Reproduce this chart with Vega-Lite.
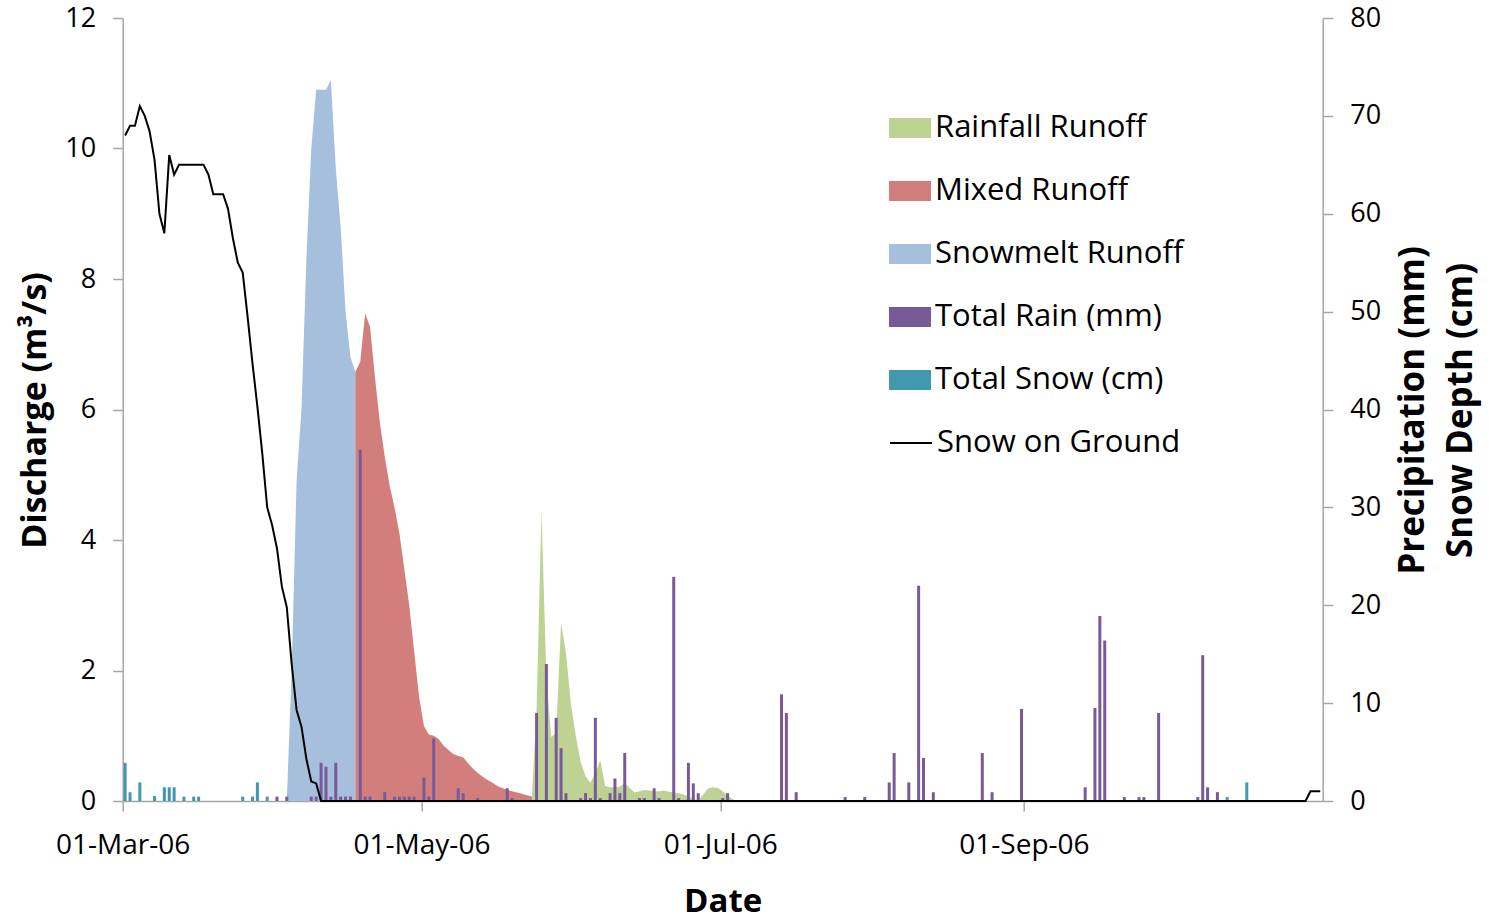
{
  "$schema": "https://vega.github.io/schema/vega-lite/v6.json",
  "width": 1200,
  "height": 783,
  "autosize": {"type": "none"},
  "padding": {"left": 122.7, "top": 18, "right": 168.3, "bottom": 121},
  "background": "white",
  "config": {
    "font": "Open Sans",
    "view": {"stroke": null},
    "axis": {
      "grid": false,
      "labelFont": "Open Sans",
      "titleFont": "Open Sans",
      "labelColor": "#000000",
      "titleColor": "#000000",
      "domainColor": "#A6A6A6",
      "tickColor": "#A6A6A6",
      "domainWidth": 1.5,
      "tickWidth": 1.5,
      "tickSize": 10
    },
    "legend": {"labelFont": "Open Sans", "labelColor": "#000000"}
  },
  "layer": [
    {
      "data": {"values": [
        {"date": "2006-04-03", "series": "Snowmelt Runoff", "q": 0},
        {"date": "2006-04-04", "series": "Snowmelt Runoff", "q": 2.0},
        {"date": "2006-04-05", "series": "Snowmelt Runoff", "q": 4.9},
        {"date": "2006-04-06", "series": "Snowmelt Runoff", "q": 6.0},
        {"date": "2006-04-07", "series": "Snowmelt Runoff", "q": 8.3},
        {"date": "2006-04-08", "series": "Snowmelt Runoff", "q": 10.0},
        {"date": "2006-04-09", "series": "Snowmelt Runoff", "q": 10.9},
        {"date": "2006-04-10", "series": "Snowmelt Runoff", "q": 10.9},
        {"date": "2006-04-11", "series": "Snowmelt Runoff", "q": 10.9},
        {"date": "2006-04-12", "series": "Snowmelt Runoff", "q": 11.05},
        {"date": "2006-04-13", "series": "Snowmelt Runoff", "q": 9.7},
        {"date": "2006-04-14", "series": "Snowmelt Runoff", "q": 8.8},
        {"date": "2006-04-15", "series": "Snowmelt Runoff", "q": 7.5},
        {"date": "2006-04-16", "series": "Snowmelt Runoff", "q": 6.8},
        {"date": "2006-04-17", "series": "Snowmelt Runoff", "q": 6.58},
        {"date": "2006-04-17", "series": "Mixed Runoff", "q": 6.58},
        {"date": "2006-04-18", "series": "Mixed Runoff", "q": 6.73},
        {"date": "2006-04-19", "series": "Mixed Runoff", "q": 7.47},
        {"date": "2006-04-20", "series": "Mixed Runoff", "q": 7.27},
        {"date": "2006-04-21", "series": "Mixed Runoff", "q": 6.5},
        {"date": "2006-04-22", "series": "Mixed Runoff", "q": 5.8},
        {"date": "2006-04-23", "series": "Mixed Runoff", "q": 5.28},
        {"date": "2006-04-24", "series": "Mixed Runoff", "q": 4.83},
        {"date": "2006-04-25", "series": "Mixed Runoff", "q": 4.5},
        {"date": "2006-04-26", "series": "Mixed Runoff", "q": 4.1},
        {"date": "2006-04-27", "series": "Mixed Runoff", "q": 3.55},
        {"date": "2006-04-28", "series": "Mixed Runoff", "q": 3.0},
        {"date": "2006-04-29", "series": "Mixed Runoff", "q": 2.3},
        {"date": "2006-04-30", "series": "Mixed Runoff", "q": 1.6},
        {"date": "2006-05-01", "series": "Mixed Runoff", "q": 1.15},
        {"date": "2006-05-02", "series": "Mixed Runoff", "q": 1.02},
        {"date": "2006-05-03", "series": "Mixed Runoff", "q": 1.0},
        {"date": "2006-05-04", "series": "Mixed Runoff", "q": 0.95},
        {"date": "2006-05-05", "series": "Mixed Runoff", "q": 0.85},
        {"date": "2006-05-06", "series": "Mixed Runoff", "q": 0.78},
        {"date": "2006-05-07", "series": "Mixed Runoff", "q": 0.72},
        {"date": "2006-05-08", "series": "Mixed Runoff", "q": 0.69},
        {"date": "2006-05-09", "series": "Mixed Runoff", "q": 0.67},
        {"date": "2006-05-10", "series": "Mixed Runoff", "q": 0.58},
        {"date": "2006-05-11", "series": "Mixed Runoff", "q": 0.5},
        {"date": "2006-05-12", "series": "Mixed Runoff", "q": 0.43},
        {"date": "2006-05-13", "series": "Mixed Runoff", "q": 0.37},
        {"date": "2006-05-14", "series": "Mixed Runoff", "q": 0.32},
        {"date": "2006-05-15", "series": "Mixed Runoff", "q": 0.28},
        {"date": "2006-05-16", "series": "Mixed Runoff", "q": 0.23},
        {"date": "2006-05-17", "series": "Mixed Runoff", "q": 0.2},
        {"date": "2006-05-18", "series": "Mixed Runoff", "q": 0.17},
        {"date": "2006-05-19", "series": "Mixed Runoff", "q": 0.15},
        {"date": "2006-05-20", "series": "Mixed Runoff", "q": 0.13},
        {"date": "2006-05-21", "series": "Mixed Runoff", "q": 0.11},
        {"date": "2006-05-22", "series": "Mixed Runoff", "q": 0.09},
        {"date": "2006-05-23", "series": "Mixed Runoff", "q": 0.07},
        {"date": "2006-05-24", "series": "Mixed Runoff", "q": 0},
        {"date": "2006-05-23", "series": "Rainfall Runoff", "q": 0},
        {"date": "2006-05-24", "series": "Rainfall Runoff", "q": 1.4},
        {"date": "2006-05-25", "series": "Rainfall Runoff", "q": 4.45},
        {"date": "2006-05-26", "series": "Rainfall Runoff", "q": 1.9},
        {"date": "2006-05-27", "series": "Rainfall Runoff", "q": 0.98},
        {"date": "2006-05-28", "series": "Rainfall Runoff", "q": 1.05},
        {"date": "2006-05-29", "series": "Rainfall Runoff", "q": 2.73},
        {"date": "2006-05-30", "series": "Rainfall Runoff", "q": 2.27},
        {"date": "2006-05-31", "series": "Rainfall Runoff", "q": 1.5},
        {"date": "2006-06-01", "series": "Rainfall Runoff", "q": 1.0},
        {"date": "2006-06-02", "series": "Rainfall Runoff", "q": 0.6},
        {"date": "2006-06-03", "series": "Rainfall Runoff", "q": 0.38},
        {"date": "2006-06-04", "series": "Rainfall Runoff", "q": 0.28},
        {"date": "2006-06-05", "series": "Rainfall Runoff", "q": 0.42},
        {"date": "2006-06-06", "series": "Rainfall Runoff", "q": 0.63},
        {"date": "2006-06-07", "series": "Rainfall Runoff", "q": 0.23},
        {"date": "2006-06-08", "series": "Rainfall Runoff", "q": 0.21},
        {"date": "2006-06-09", "series": "Rainfall Runoff", "q": 0.21},
        {"date": "2006-06-10", "series": "Rainfall Runoff", "q": 0.22},
        {"date": "2006-06-11", "series": "Rainfall Runoff", "q": 0.28},
        {"date": "2006-06-12", "series": "Rainfall Runoff", "q": 0.2},
        {"date": "2006-06-13", "series": "Rainfall Runoff", "q": 0.13},
        {"date": "2006-06-14", "series": "Rainfall Runoff", "q": 0.15},
        {"date": "2006-06-15", "series": "Rainfall Runoff", "q": 0.17},
        {"date": "2006-06-16", "series": "Rainfall Runoff", "q": 0.16},
        {"date": "2006-06-17", "series": "Rainfall Runoff", "q": 0.15},
        {"date": "2006-06-18", "series": "Rainfall Runoff", "q": 0.15},
        {"date": "2006-06-19", "series": "Rainfall Runoff", "q": 0.16},
        {"date": "2006-06-20", "series": "Rainfall Runoff", "q": 0.14},
        {"date": "2006-06-21", "series": "Rainfall Runoff", "q": 0.13},
        {"date": "2006-06-22", "series": "Rainfall Runoff", "q": 0.12},
        {"date": "2006-06-23", "series": "Rainfall Runoff", "q": 0.1},
        {"date": "2006-06-24", "series": "Rainfall Runoff", "q": 0.07},
        {"date": "2006-06-25", "series": "Rainfall Runoff", "q": 0.03},
        {"date": "2006-06-26", "series": "Rainfall Runoff", "q": 0.01},
        {"date": "2006-06-27", "series": "Rainfall Runoff", "q": 0.1},
        {"date": "2006-06-28", "series": "Rainfall Runoff", "q": 0.19},
        {"date": "2006-06-29", "series": "Rainfall Runoff", "q": 0.21},
        {"date": "2006-06-30", "series": "Rainfall Runoff", "q": 0.2},
        {"date": "2006-07-01", "series": "Rainfall Runoff", "q": 0.15},
        {"date": "2006-07-02", "series": "Rainfall Runoff", "q": 0.08},
        {"date": "2006-07-03", "series": "Rainfall Runoff", "q": 0.03},
        {"date": "2006-07-04", "series": "Rainfall Runoff", "q": 0}
      ]},
      "mark": {"type": "area", "interpolate": "linear", "xOffset": 2.45, "opacity": 1},
      "encoding": {
        "x": {
          "field": "date", "type": "temporal",
          "scale": {"type": "utc", "padding": 0, "domain": [{"year": 2006, "month": 3, "date": 1, "utc": true}, {"year": 2006, "month": 11, "date": 1, "utc": true}]},
          "axis": {
            "values": [
              {"year": 2006, "month": 3, "date": 1, "utc": true},
              {"year": 2006, "month": 5, "date": 1, "utc": true},
              {"year": 2006, "month": 7, "date": 1, "utc": true},
              {"year": 2006, "month": 9, "date": 1, "utc": true}
            ],
            "format": "%d-%b-%y",
            "labelFontSize": 28,
            "labelPadding": 20,
            "labelFlush": false,
            "labelOverlap": false,
            "title": "Date",
            "titleFontSize": 33,
            "titleFontWeight": "bold",
            "titleBaseline": "alphabetic",
            "titleY": 110,
            "titleX": 600,
            "titleAlign": "center"
          }
        },
        "y": {
          "field": "q", "type": "quantitative", "stack": null,
          "scale": {"domain": [0, 12], "nice": false},
          "axis": {
            "values": [0, 2, 4, 6, 8, 10, 12],
            "labelFontSize": 27,
            "labelPadding": 17,
            "title": "Discharge (m³/s)",
            "titleFontSize": 34,
            "titleFontWeight": "bold",
            "titleAngle": 270,
            "titleBaseline": "alphabetic",
            "titleAlign": "center",
            "titleX": -77,
            "titleY": 392
          }
        },
        "color": {
          "field": "series", "type": "nominal",
          "scale": {
            "domain": ["Rainfall Runoff", "Mixed Runoff", "Snowmelt Runoff", "Total Rain (mm)", "Total Snow (cm)"],
            "range": ["#BED393", "#D27E7D", "#A6BFDD", "#785A98", "#4298AF"]
          },
          "legend": {
            "orient": "none", "legendX": 766.3, "legendY": 89,
            "title": null, "padding": 0,
            "symbolType": "M-1,-0.476H1V0.476H-1Z", "symbolSize": 1764,
            "symbolStrokeWidth": 0, "symbolOpacity": 1,
            "labelFontSize": 31, "labelOffset": 4, "rowPadding": 27,
            "labelLimit": 400
          }
        }
      }
    },
    {
      "layer": [
        {
          "data": {"values": [
            {"date": "2006-03-01", "series": "Total Snow (cm)", "value": 3.9},
            {"date": "2006-03-02", "series": "Total Snow (cm)", "value": 0.9},
            {"date": "2006-03-04", "series": "Total Snow (cm)", "value": 1.9},
            {"date": "2006-03-07", "series": "Total Snow (cm)", "value": 0.5},
            {"date": "2006-03-09", "series": "Total Snow (cm)", "value": 1.4},
            {"date": "2006-03-10", "series": "Total Snow (cm)", "value": 1.4},
            {"date": "2006-03-11", "series": "Total Snow (cm)", "value": 1.4},
            {"date": "2006-03-13", "series": "Total Snow (cm)", "value": 0.45},
            {"date": "2006-03-15", "series": "Total Snow (cm)", "value": 0.45},
            {"date": "2006-03-16", "series": "Total Snow (cm)", "value": 0.45},
            {"date": "2006-03-25", "series": "Total Snow (cm)", "value": 0.45},
            {"date": "2006-03-27", "series": "Total Snow (cm)", "value": 0.45},
            {"date": "2006-03-28", "series": "Total Snow (cm)", "value": 1.9},
            {"date": "2006-03-30", "series": "Total Snow (cm)", "value": 0.45},
            {"date": "2006-10-12", "series": "Total Snow (cm)", "value": 0.4},
            {"date": "2006-10-16", "series": "Total Snow (cm)", "value": 1.9},
            {"date": "2006-04-01", "series": "Total Rain (mm)", "value": 0.45},
            {"date": "2006-04-03", "series": "Total Rain (mm)", "value": 0.45},
            {"date": "2006-04-08", "series": "Total Rain (mm)", "value": 0.45},
            {"date": "2006-04-09", "series": "Total Rain (mm)", "value": 0.45},
            {"date": "2006-04-10", "series": "Total Rain (mm)", "value": 3.9},
            {"date": "2006-04-11", "series": "Total Rain (mm)", "value": 3.5},
            {"date": "2006-04-12", "series": "Total Rain (mm)", "value": 0.45},
            {"date": "2006-04-13", "series": "Total Rain (mm)", "value": 3.9},
            {"date": "2006-04-14", "series": "Total Rain (mm)", "value": 0.45},
            {"date": "2006-04-15", "series": "Total Rain (mm)", "value": 0.45},
            {"date": "2006-04-16", "series": "Total Rain (mm)", "value": 0.45},
            {"date": "2006-04-18", "series": "Total Rain (mm)", "value": 35.9},
            {"date": "2006-04-19", "series": "Total Rain (mm)", "value": 0.45},
            {"date": "2006-04-20", "series": "Total Rain (mm)", "value": 0.45},
            {"date": "2006-04-23", "series": "Total Rain (mm)", "value": 0.9},
            {"date": "2006-04-25", "series": "Total Rain (mm)", "value": 0.45},
            {"date": "2006-04-26", "series": "Total Rain (mm)", "value": 0.45},
            {"date": "2006-04-27", "series": "Total Rain (mm)", "value": 0.45},
            {"date": "2006-04-28", "series": "Total Rain (mm)", "value": 0.45},
            {"date": "2006-04-29", "series": "Total Rain (mm)", "value": 0.45},
            {"date": "2006-05-01", "series": "Total Rain (mm)", "value": 2.4},
            {"date": "2006-05-02", "series": "Total Rain (mm)", "value": 0.45},
            {"date": "2006-05-03", "series": "Total Rain (mm)", "value": 6.4},
            {"date": "2006-05-08", "series": "Total Rain (mm)", "value": 1.3},
            {"date": "2006-05-09", "series": "Total Rain (mm)", "value": 0.8},
            {"date": "2006-05-12", "series": "Total Rain (mm)", "value": 0.3},
            {"date": "2006-05-18", "series": "Total Rain (mm)", "value": 1.3},
            {"date": "2006-05-19", "series": "Total Rain (mm)", "value": 0.3},
            {"date": "2006-05-24", "series": "Total Rain (mm)", "value": 9.0},
            {"date": "2006-05-26", "series": "Total Rain (mm)", "value": 14.0},
            {"date": "2006-05-28", "series": "Total Rain (mm)", "value": 8.5},
            {"date": "2006-05-29", "series": "Total Rain (mm)", "value": 5.4},
            {"date": "2006-05-30", "series": "Total Rain (mm)", "value": 0.8},
            {"date": "2006-06-02", "series": "Total Rain (mm)", "value": 0.3},
            {"date": "2006-06-03", "series": "Total Rain (mm)", "value": 0.8},
            {"date": "2006-06-04", "series": "Total Rain (mm)", "value": 0.3},
            {"date": "2006-06-05", "series": "Total Rain (mm)", "value": 8.5},
            {"date": "2006-06-06", "series": "Total Rain (mm)", "value": 0.3},
            {"date": "2006-06-08", "series": "Total Rain (mm)", "value": 0.8},
            {"date": "2006-06-09", "series": "Total Rain (mm)", "value": 2.3},
            {"date": "2006-06-10", "series": "Total Rain (mm)", "value": 0.8},
            {"date": "2006-06-11", "series": "Total Rain (mm)", "value": 4.9},
            {"date": "2006-06-14", "series": "Total Rain (mm)", "value": 0.3},
            {"date": "2006-06-15", "series": "Total Rain (mm)", "value": 0.3},
            {"date": "2006-06-17", "series": "Total Rain (mm)", "value": 1.3},
            {"date": "2006-06-18", "series": "Total Rain (mm)", "value": 0.3},
            {"date": "2006-06-21", "series": "Total Rain (mm)", "value": 22.9},
            {"date": "2006-06-22", "series": "Total Rain (mm)", "value": 0.3},
            {"date": "2006-06-24", "series": "Total Rain (mm)", "value": 3.9},
            {"date": "2006-06-25", "series": "Total Rain (mm)", "value": 1.8},
            {"date": "2006-06-26", "series": "Total Rain (mm)", "value": 0.8},
            {"date": "2006-07-01", "series": "Total Rain (mm)", "value": 0.3},
            {"date": "2006-07-02", "series": "Total Rain (mm)", "value": 0.8},
            {"date": "2006-07-13", "series": "Total Rain (mm)", "value": 10.9},
            {"date": "2006-07-14", "series": "Total Rain (mm)", "value": 9.0},
            {"date": "2006-07-16", "series": "Total Rain (mm)", "value": 0.9},
            {"date": "2006-07-26", "series": "Total Rain (mm)", "value": 0.4},
            {"date": "2006-07-30", "series": "Total Rain (mm)", "value": 0.4},
            {"date": "2006-08-04", "series": "Total Rain (mm)", "value": 1.9},
            {"date": "2006-08-05", "series": "Total Rain (mm)", "value": 4.9},
            {"date": "2006-08-08", "series": "Total Rain (mm)", "value": 1.9},
            {"date": "2006-08-10", "series": "Total Rain (mm)", "value": 22.0},
            {"date": "2006-08-11", "series": "Total Rain (mm)", "value": 4.4},
            {"date": "2006-08-13", "series": "Total Rain (mm)", "value": 0.9},
            {"date": "2006-08-23", "series": "Total Rain (mm)", "value": 4.9},
            {"date": "2006-08-25", "series": "Total Rain (mm)", "value": 0.9},
            {"date": "2006-08-31", "series": "Total Rain (mm)", "value": 9.4},
            {"date": "2006-09-13", "series": "Total Rain (mm)", "value": 1.4},
            {"date": "2006-09-15", "series": "Total Rain (mm)", "value": 9.5},
            {"date": "2006-09-16", "series": "Total Rain (mm)", "value": 18.9},
            {"date": "2006-09-17", "series": "Total Rain (mm)", "value": 16.4},
            {"date": "2006-09-21", "series": "Total Rain (mm)", "value": 0.4},
            {"date": "2006-09-24", "series": "Total Rain (mm)", "value": 0.4},
            {"date": "2006-09-25", "series": "Total Rain (mm)", "value": 0.4},
            {"date": "2006-09-28", "series": "Total Rain (mm)", "value": 9.0},
            {"date": "2006-10-06", "series": "Total Rain (mm)", "value": 0.4},
            {"date": "2006-10-07", "series": "Total Rain (mm)", "value": 14.9},
            {"date": "2006-10-08", "series": "Total Rain (mm)", "value": 1.4},
            {"date": "2006-10-10", "series": "Total Rain (mm)", "value": 0.9}
          ]},
          "mark": {"type": "bar", "width": 3, "xOffset": 2.45},
          "encoding": {
            "x": {
              "field": "date", "type": "temporal",
              "scale": {"type": "utc", "padding": 0, "domain": [{"year": 2006, "month": 3, "date": 1, "utc": true}, {"year": 2006, "month": 11, "date": 1, "utc": true}]},
              "axis": {
                "values": [
                  {"year": 2006, "month": 3, "date": 1, "utc": true},
                  {"year": 2006, "month": 5, "date": 1, "utc": true},
                  {"year": 2006, "month": 7, "date": 1, "utc": true},
                  {"year": 2006, "month": 9, "date": 1, "utc": true}
                ],
                "format": "%d-%b-%y",
                "labelFontSize": 28,
                "labelPadding": 20,
                "labelFlush": false,
                "labelOverlap": false,
                "title": "Date",
                "titleFontSize": 33,
                "titleFontWeight": "bold",
                "titleBaseline": "alphabetic",
                "titleY": 110,
                "titleX": 600,
                "titleAlign": "center"
              }
            },
            "y": {
              "field": "value", "type": "quantitative", "stack": null,
              "scale": {"domain": [0, 80], "nice": false},
              "axis": {
                "orient": "right",
                "values": [0, 10, 20, 30, 40, 50, 60, 70, 80],
                "labelFontSize": 27,
                "labelPadding": 17,
                "title": ["Precipitation (mm)", "Snow Depth (cm)"],
                "titleFontSize": 35,
                "titleFontWeight": "bold",
                "titleAngle": 270,
                "titleBaseline": "alphabetic",
                "titleAlign": "center",
                "titleLineHeight": 48,
                "titleX": 101,
                "titleY": 392
              }
            },
            "color": {
              "field": "series", "type": "nominal",
              "scale": {
                "domain": ["Rainfall Runoff", "Mixed Runoff", "Snowmelt Runoff", "Total Rain (mm)", "Total Snow (cm)"],
                "range": ["#BED393", "#D27E7D", "#A6BFDD", "#785A98", "#4298AF"]
              },
              "legend": {
                "orient": "none", "legendX": 766.3, "legendY": 89,
                "title": null, "padding": 0,
                "symbolType": "M-1,-0.476H1V0.476H-1Z", "symbolSize": 1764,
                "symbolStrokeWidth": 0, "symbolOpacity": 1,
                "labelFontSize": 31, "labelOffset": 4, "rowPadding": 27,
                "labelLimit": 400
              }
            }
          }
        },
        {
          "data": {"values": [
            {"date": "2006-03-01", "series": "Snow on Ground", "depth": 68},
            {"date": "2006-03-02", "series": "Snow on Ground", "depth": 69},
            {"date": "2006-03-03", "series": "Snow on Ground", "depth": 69},
            {"date": "2006-03-04", "series": "Snow on Ground", "depth": 71},
            {"date": "2006-03-05", "series": "Snow on Ground", "depth": 70},
            {"date": "2006-03-06", "series": "Snow on Ground", "depth": 68.4},
            {"date": "2006-03-07", "series": "Snow on Ground", "depth": 65.5},
            {"date": "2006-03-08", "series": "Snow on Ground", "depth": 60},
            {"date": "2006-03-09", "series": "Snow on Ground", "depth": 58},
            {"date": "2006-03-10", "series": "Snow on Ground", "depth": 66},
            {"date": "2006-03-11", "series": "Snow on Ground", "depth": 64},
            {"date": "2006-03-12", "series": "Snow on Ground", "depth": 65},
            {"date": "2006-03-13", "series": "Snow on Ground", "depth": 65},
            {"date": "2006-03-14", "series": "Snow on Ground", "depth": 65},
            {"date": "2006-03-15", "series": "Snow on Ground", "depth": 65},
            {"date": "2006-03-16", "series": "Snow on Ground", "depth": 65},
            {"date": "2006-03-17", "series": "Snow on Ground", "depth": 65},
            {"date": "2006-03-18", "series": "Snow on Ground", "depth": 64},
            {"date": "2006-03-19", "series": "Snow on Ground", "depth": 62},
            {"date": "2006-03-20", "series": "Snow on Ground", "depth": 62},
            {"date": "2006-03-21", "series": "Snow on Ground", "depth": 62},
            {"date": "2006-03-22", "series": "Snow on Ground", "depth": 60.5},
            {"date": "2006-03-23", "series": "Snow on Ground", "depth": 57.5},
            {"date": "2006-03-24", "series": "Snow on Ground", "depth": 55},
            {"date": "2006-03-25", "series": "Snow on Ground", "depth": 54},
            {"date": "2006-03-26", "series": "Snow on Ground", "depth": 49.5},
            {"date": "2006-03-27", "series": "Snow on Ground", "depth": 44.7},
            {"date": "2006-03-28", "series": "Snow on Ground", "depth": 40.3},
            {"date": "2006-03-29", "series": "Snow on Ground", "depth": 35.5},
            {"date": "2006-03-30", "series": "Snow on Ground", "depth": 30},
            {"date": "2006-03-31", "series": "Snow on Ground", "depth": 28.2},
            {"date": "2006-04-01", "series": "Snow on Ground", "depth": 25.8},
            {"date": "2006-04-02", "series": "Snow on Ground", "depth": 21.9},
            {"date": "2006-04-03", "series": "Snow on Ground", "depth": 19.8},
            {"date": "2006-04-04", "series": "Snow on Ground", "depth": 14},
            {"date": "2006-04-05", "series": "Snow on Ground", "depth": 9.3},
            {"date": "2006-04-06", "series": "Snow on Ground", "depth": 7.6},
            {"date": "2006-04-07", "series": "Snow on Ground", "depth": 4.3},
            {"date": "2006-04-08", "series": "Snow on Ground", "depth": 2},
            {"date": "2006-04-09", "series": "Snow on Ground", "depth": 1.8},
            {"date": "2006-04-10", "series": "Snow on Ground", "depth": 0},
            {"date": "2006-10-28", "series": "Snow on Ground", "depth": 0},
            {"date": "2006-10-29", "series": "Snow on Ground", "depth": 1},
            {"date": "2006-10-30", "series": "Snow on Ground", "depth": 1},
            {"date": "2006-10-31", "series": "Snow on Ground", "depth": 1}
          ]},
          "mark": {"type": "line", "interpolate": "linear", "strokeWidth": 2, "xOffset": 2.45},
          "encoding": {
            "x": {
              "field": "date", "type": "temporal",
              "scale": {"type": "utc", "padding": 0, "domain": [{"year": 2006, "month": 3, "date": 1, "utc": true}, {"year": 2006, "month": 11, "date": 1, "utc": true}]},
              "axis": {
                "values": [
                  {"year": 2006, "month": 3, "date": 1, "utc": true},
                  {"year": 2006, "month": 5, "date": 1, "utc": true},
                  {"year": 2006, "month": 7, "date": 1, "utc": true},
                  {"year": 2006, "month": 9, "date": 1, "utc": true}
                ],
                "format": "%d-%b-%y",
                "labelFontSize": 28,
                "labelPadding": 20,
                "labelFlush": false,
                "labelOverlap": false,
                "title": "Date",
                "titleFontSize": 33,
                "titleFontWeight": "bold",
                "titleBaseline": "alphabetic",
                "titleY": 110,
                "titleX": 600,
                "titleAlign": "center"
              }
            },
            "y": {
              "field": "depth", "type": "quantitative",
              "scale": {"domain": [0, 80], "nice": false},
              "axis": {
                "orient": "right",
                "values": [0, 10, 20, 30, 40, 50, 60, 70, 80],
                "labelFontSize": 27,
                "labelPadding": 17,
                "title": ["Precipitation (mm)", "Snow Depth (cm)"],
                "titleFontSize": 35,
                "titleFontWeight": "bold",
                "titleAngle": 270,
                "titleBaseline": "alphabetic",
                "titleAlign": "center",
                "titleLineHeight": 48,
                "titleX": 101,
                "titleY": 392
              }
            },
            "stroke": {
              "field": "series", "type": "nominal",
              "scale": {"domain": ["Snow on Ground"], "range": ["#000000"]},
              "legend": {
                "orient": "none", "legendX": 766.3, "legendY": 403,
                "title": null, "padding": 0,
                "symbolType": "stroke", "symbolSize": 1764, "symbolStrokeWidth": 2,
                "symbolStrokeColor": "#000000",
                "labelFontSize": 31, "labelOffset": 4, "labelLimit": 400
              }
            }
          }
        }
      ]
    }
  ],
  "resolve": {"scale": {"y": "independent"}}
}
